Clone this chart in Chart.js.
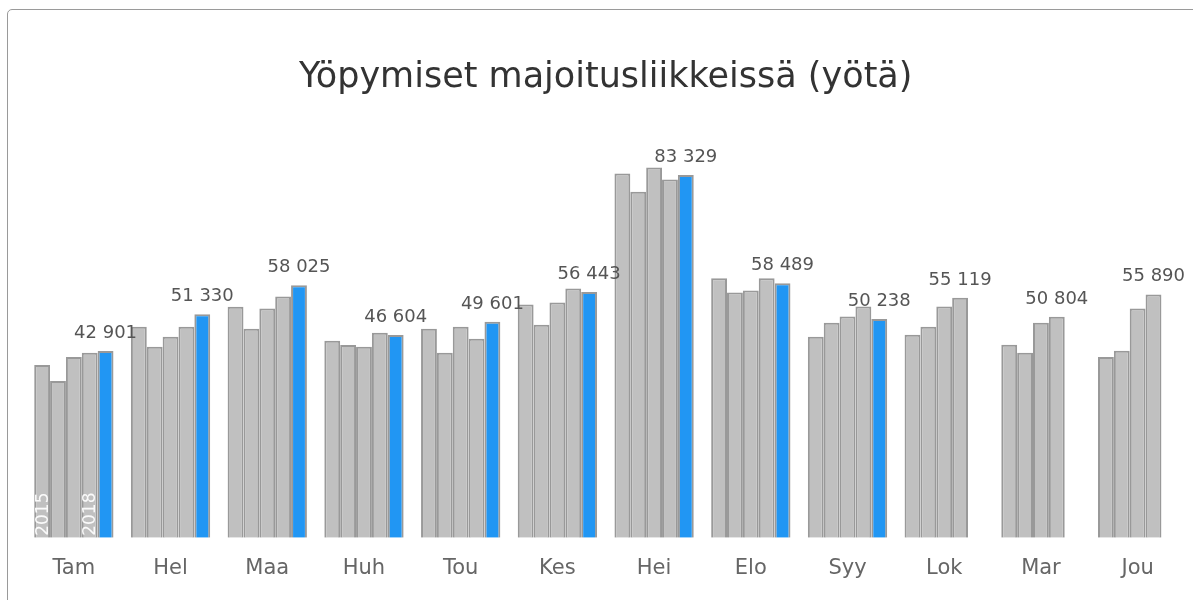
<!DOCTYPE html>
<html>
<head>
<meta charset="utf-8">
<script src="https://cdn.jsdelivr.net/npm/chart.js@4/dist/chart.umd.min.js"></script>
<style>
  html, body { margin: 0; padding: 0; background: #fff; overflow: hidden; }
  #frame { position: absolute; left: 7px; top: 9px; width: 1230px; height: 640px;
           border: 1px solid #9a9a9a; border-radius: 5px; box-sizing: border-box; }
  #wrap { position: absolute; left: 0; top: 0; width: 1193px; height: 600px; }
</style>
</head>
<body>
<div id="frame"></div>
<div id="wrap"><canvas id="c" width="1193" height="600"></canvas></div>
<script>
const categories = ["Tam", "Hel", "Maa", "Huh", "Tou", "Kes", "Hei", "Elo", "Syy", "Lok", "Mar", "Jou"];
const years = ["2015", "2016", "2017", "2018", "2019"];
const v2015 = [39700, 48500, 53100, 45250, 48030, 53590, 83680, 59610, 46180, 46640, 44330, 41550];
const v2016 = [36000, 43870, 48030, 44260, 42480, 48960, 79510, 56370, 49420, 48500, 42480, 42940];
const v2017 = [41550, 46180, 52660, 43870, 48500, 54050, 85070, 56830, 50810, 53130, 49420, 52660];
const v2018 = [42480, 48500, 55440, 47110, 45720, 57290, 82290, 59610, 53130, 55119, 50804, 55890];
const v2019 = [42901, 51330, 58025, 46604, 49601, 56443, 83329, 58489, 50238, null, null, null];
const yearLabelBars = ["2015", "2018"];

const seriesValues = [v2015, v2016, v2017, v2018, v2019];
const GRAY = "#c0c0c0", BLUE = "#2196f3", EDGE = "#999999";
const FONT = "'DejaVu Sans', sans-serif";

function fmt(n) {
  return String(n).replace(/\B(?=(\d{3})+(?!\d))/g, " ");
}

const valueLabels = {
  id: "valueLabels",
  afterDatasetsDraw(chart) {
    const ctx = chart.ctx;
    ctx.save();
    ctx.font = "18px " + FONT;
    ctx.fillStyle = "#555555";
    ctx.textAlign = "center";
    ctx.textBaseline = "alphabetic";
    categories.forEach((c, i) => {
      for (let d = seriesValues.length - 1; d >= 0; d--) {
        const v = seriesValues[d][i];
        if (v !== null && v !== undefined) {
          const bar = chart.getDatasetMeta(d).data[i];
          ctx.fillText(fmt(v), bar.x, bar.y - 13);
          break;
        }
      }
    });
    ctx.font = "17px " + FONT;
    ctx.fillStyle = "rgba(255,255,255,0.92)";
    ctx.textAlign = "left";
    ctx.textBaseline = "middle";
    yearLabelBars.forEach(y => {
      const d = years.indexOf(y);
      const bar = chart.getDatasetMeta(d).data[0];
      ctx.save();
      ctx.translate(bar.x + 1, bar.base - 2);
      ctx.rotate(-Math.PI / 2);
      ctx.fillText(y, 0, 0);
      ctx.restore();
    });
    ctx.restore();
  }
};

new Chart(document.getElementById("c"), {
  type: "bar",
  data: {
    labels: categories,
    datasets: years.map((y, d) => ({
      label: y,
      data: seriesValues[d],
      backgroundColor: d === 4 ? BLUE : GRAY,
      borderColor: EDGE,
      borderWidth: 2,
      barPercentage: 1.0,
      categoryPercentage: 0.82
    }))
  },
  options: {
    responsive: false,
    animation: false,
    devicePixelRatio: 1,
    layout: { padding: { left: 25.5, right: 7, top: 0, bottom: 0 } },
    plugins: {
      legend: { display: false },
      tooltip: { enabled: false },
      title: {
        display: true,
        text: "Yöpymiset majoitusliikkeissä (yötä)",
        color: "#333333",
        font: { family: FONT, size: 35, weight: "normal" },
        padding: { top: 57, bottom: 47 }
      }
    },
    scales: {
      x: {
        grid: { display: false, drawTicks: false },
        border: { display: false },
        ticks: { color: "#666666", font: { family: FONT, size: 21 }, padding: 18.5 }
      },
      y: {
        display: false,
        min: 0,
        max: 90000
      }
    }
  },
  plugins: [valueLabels]
});
</script>
</body>
</html>
